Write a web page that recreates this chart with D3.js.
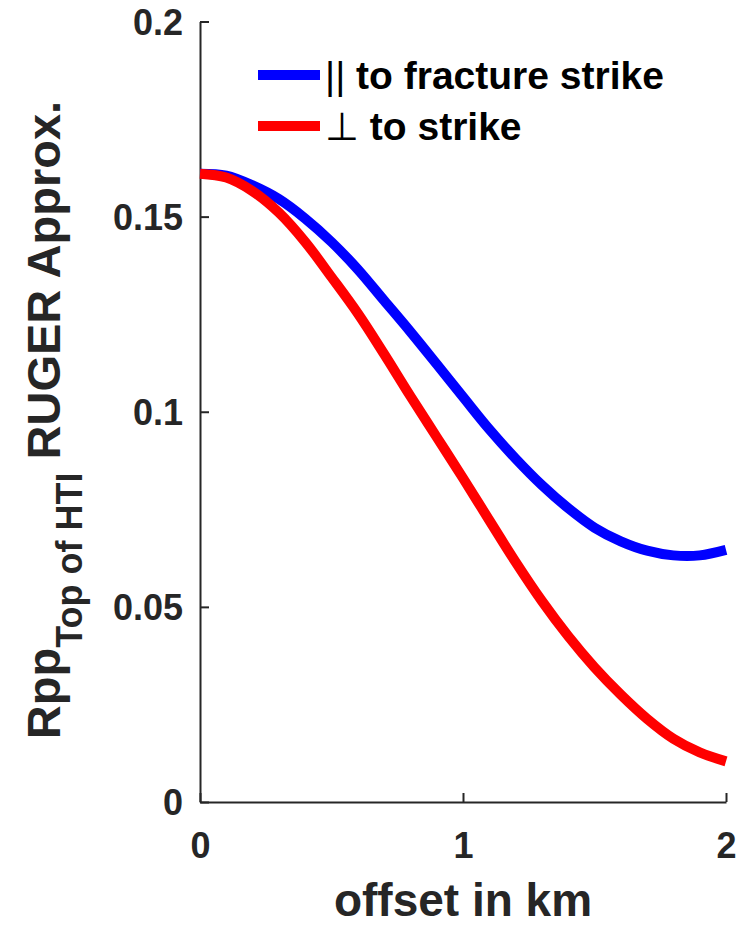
<!DOCTYPE html>
<html>
<head>
<meta charset="utf-8">
<script src="https://cdn.jsdelivr.net/npm/d3@7"></script>
<style>
  body { margin: 0; background: #fff; }
  text { font-family: "Liberation Sans", Arial, Helvetica, sans-serif; font-weight: bold; }
</style>
</head>
<body>
<div id="chart"></div>
<script>
// offsets in km
var offsets = [0, 0.1, 0.2, 0.3, 0.4, 0.5, 0.6, 0.7, 0.8, 0.9, 1.0, 1.1, 1.2, 1.3, 1.4, 1.5, 1.6, 1.7, 1.8, 1.9, 2.0];
// parallel to fracture strike
var rppParallel = [0.161, 0.1605, 0.158, 0.1545, 0.1495, 0.1435, 0.1365, 0.1285, 0.1205, 0.1122, 0.1038, 0.0955, 0.088, 0.0812, 0.0753, 0.0703, 0.0668, 0.0644, 0.0632, 0.0632, 0.0646];
// perpendicular to strike
var rppPerp = [0.161, 0.16, 0.1565, 0.151, 0.1435, 0.1345, 0.1252, 0.1148, 0.104, 0.0935, 0.083, 0.0722, 0.0615, 0.0515, 0.0425, 0.0345, 0.0275, 0.0213, 0.0162, 0.0127, 0.0104];

var xTicks = [0, 1, 2];
var yTicks = [0, 0.05, 0.1, 0.15, 0.2];
var yTickLabels = ["0", "0.05", "0.1", "0.15", "0.2"];
var legendLabels = ["to fracture strike", "to strike"];
var legendSymbols = ["||", "\u22A5"];
var colors = ["#0000ff", "#ff0000"];

var width = 756, height = 928;
var margin = {top: 21.5, right: 30, bottom: 126, left: 200};
var w = 726 - margin.left, h = 802 - margin.top;

var svg = d3.select("#chart")
  .append("svg")
    .attr("width", width)
    .attr("height", height);

var g = svg.append("g")
  .attr("transform", "translate(" + margin.left + "," + margin.top + ")");

var x = d3.scaleLinear().domain([0, 2]).range([0, w]);
var y = d3.scaleLinear().domain([0, 0.2]).range([h, 0]);

// axes (ticks inward, MATLAB style)
var xAxis = g.append("g")
  .attr("transform", "translate(0," + h + ")")
  .call(d3.axisBottom(x).tickValues(xTicks).tickSizeInner(-9).tickSizeOuter(0).tickPadding(30).tickFormat(d3.format("d")));
var yAxis = g.append("g")
  .call(d3.axisLeft(y).tickValues(yTicks).tickSizeInner(-9).tickSizeOuter(0).tickPadding(17)
    .tickFormat(function (d, i) { return yTickLabels[i]; }));

[xAxis, yAxis].forEach(function (a) {
  a.select(".domain").attr("stroke", "#262626").attr("stroke-width", 2);
  a.selectAll(".tick line").attr("stroke", "#262626").attr("stroke-width", 2);
  a.selectAll(".tick text").attr("fill", "#262626").style("font-size", "36px").style("font-weight", "bold")
    .style("font-family", "'Liberation Sans', Arial, sans-serif");
});
xAxis.selectAll(".tick text").attr("dy", "0.71em");
yAxis.selectAll(".tick text").attr("dy", "0.36em");

// lines
var line = d3.line()
  .x(function (d, i) { return x(offsets[i]); })
  .y(function (d) { return y(d); })
  .curve(d3.curveCatmullRom);

[rppParallel, rppPerp].forEach(function (s, k) {
  g.append("path")
    .datum(s)
    .attr("fill", "none")
    .attr("stroke", colors[k])
    .attr("stroke-width", 10)
    .attr("d", line);
});

// legend
var legend = svg.append("g").attr("transform", "translate(258,75)");
legendLabels.forEach(function (lab, i) {
  var row = legend.append("g").attr("transform", "translate(0," + (i * 51) + ")");
  row.append("line")
    .attr("x1", 0).attr("x2", 62)
    .attr("stroke", colors[i]).attr("stroke-width", 10);
  var t = row.append("text")
    .attr("x", 67).attr("y", 14)
    .attr("fill", "#000")
    .style("font-size", "39px");
  t.append("tspan").style("font-weight", "normal").text(legendSymbols[i]);
  t.append("tspan").text(" " + lab);
});

// x label
svg.append("text")
  .attr("x", margin.left + w / 2)
  .attr("y", 916)
  .attr("text-anchor", "middle")
  .attr("fill", "#262626")
  .style("font-size", "46px")
  .text("offset in km");

// y label
var yl = svg.append("text")
  .attr("transform", "translate(60,420) rotate(-90)")
  .attr("text-anchor", "middle")
  .attr("fill", "#262626")
  .style("font-size", "47px");
yl.append("tspan").text("Rpp");
yl.append("tspan").attr("dy", 22).style("font-size", "36px").text("Top of HTI");
yl.append("tspan").attr("dy", -22).text(" RUGER Approx.");
</script>
</body>
</html>
